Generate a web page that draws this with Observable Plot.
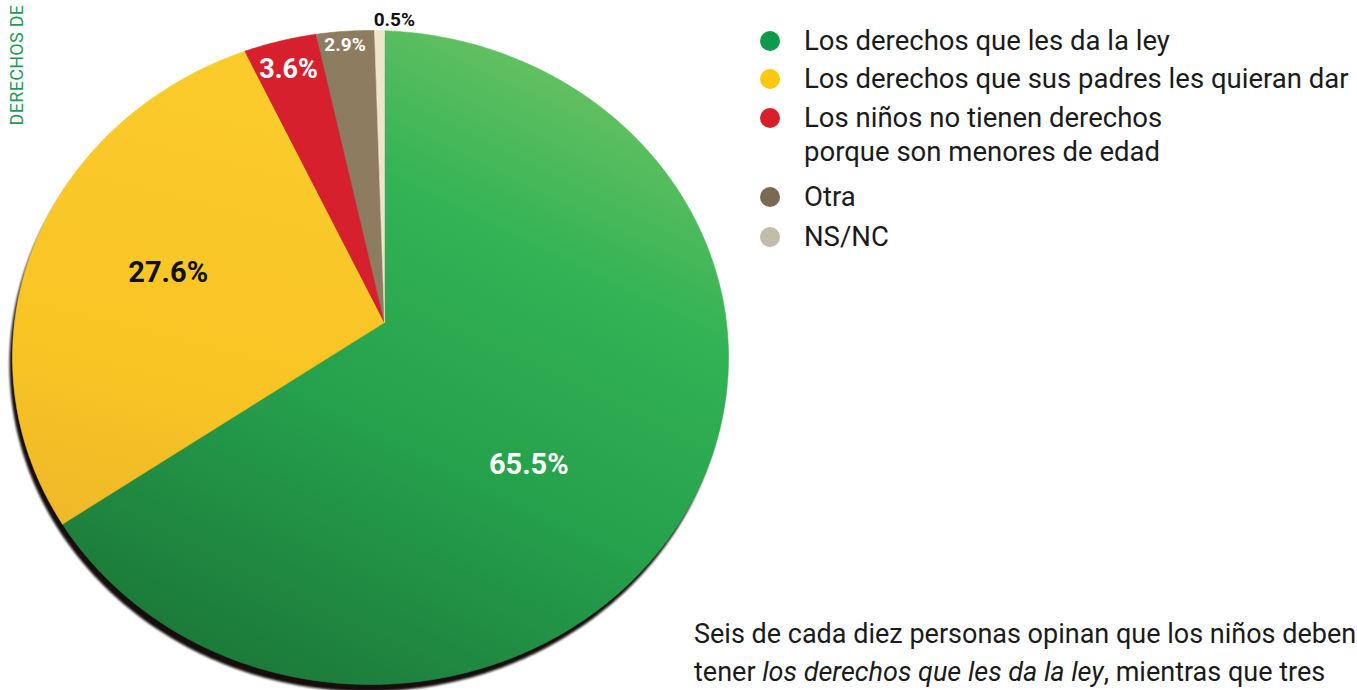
<!DOCTYPE html>
<html><head><meta charset="utf-8">
<script src="https://cdn.jsdelivr.net/npm/d3@7"></script>
<script src="https://cdn.jsdelivr.net/npm/@observablehq/plot@0.6"></script>
<style>
html,body{margin:0;padding:0;background:#fff;overflow:hidden;}
#wrap{position:relative;width:1357px;height:690px;overflow:hidden;font-family:Roboto,"Noto Sans",sans-serif;color:#1b1b1b;}
#chart{position:absolute;left:0;top:0;}
#side{position:absolute;left:16px;top:65px;transform:translate(-50%,-50%) rotate(-90deg);color:#1f9a55;font-size:18px;font-weight:400;white-space:nowrap;letter-spacing:0.3px;}
.item{position:absolute;left:804px;font-size:27.5px;line-height:34px;white-space:pre-line;}
.dot{position:absolute;left:-44px;top:7px;width:20px;height:20px;border-radius:50%;}
#note{position:absolute;left:694px;top:615px;font-size:27px;line-height:38px;white-space:nowrap;}
</style></head><body>
<div id="wrap">
  <div id="chart"></div>
  <div id="side">DERECHOS DE</div>
  <div id="legend"></div>
  <div id="note">Seis de cada diez personas opinan que los niños deben<br>tener <i>los derechos que les da la ley</i>, mientras que tres</div>
</div>
<script>
// ---- data ----
const categories = [
  "Los derechos que les da la ley",
  "Los derechos que sus padres les quieran dar",
  "Los niños no tienen derechos\nporque son menores de edad",
  "Otra",
  "NS/NC"
];
const values = [65.5, 27.6, 3.6, 2.9, 0.5];
const valueLabels = ["65.5%", "27.6%", "3.6%", "2.9%", "0.5%"];

// ---- styles / layout ----
const legendColors = ["#0f9a4b", "#fdc80f", "#d91e2b", "#7a6a51", "#c3bcab"];
const sliceFills = ["url(#gGreen)", "url(#gYellow)", "#d7202e", "#8e7c60", "#efe5cb"];
const labelColors = ["white", "#111", "white", "white", "#111"];
const labelSizes = [29, 29, 27, 19, 19];
const labelPlace = [{d: 19.4, f: 0.593}, {d: -1.1, f: 0.623}, {d: -0.4, f: 0.818}, {d: -0.4, f: 0.855}, {d: 2.6, f: 0.925}];
const legendTops = [24, 62, 101, 180, 220];

const A = {x: 384, y: 322};           // apex of the tilted pie
const C = {x: 370, y: 357};           // centre of the rim ellipse
const RX = 358, RY = 327;

function rim(theta) {
  const t = theta * Math.PI / 180, p = Math.sin(t), q = -Math.cos(t);
  const u = (A.x - C.x) / RX, v = (A.y - C.y) / RY;
  const b = u * p + v * q, c = u * u + v * v - 1;
  const s = -b + Math.sqrt(b * b - c);
  return [A.x + s * p * RX, A.y + s * q * RY];
}

const total = d3.sum(values);
let start = 0;
const slices = values.map((v, i) => {
  const end = start + v / total * 360;
  const pts = [{x: A.x, y: A.y}];
  const n = Math.max(2, Math.ceil((end - start) / 0.5));
  for (let k = 0; k <= n; k++) {
    const [x, y] = rim(start + (end - start) * k / n);
    pts.push({x, y});
  }
  pts.push({x: A.x, y: A.y});
  const s = {i, start, end, mid: (start + end) / 2, pts};
  start = end;
  return s;
});

const shadow = d3.range(0, 361, 1).map(a => {
  const t = a * Math.PI / 180;
  return {x: C.x - 3 + RX * Math.sin(t), y: C.y + 7 + RY * -Math.cos(t)};
});

const labels = slices.map(s => {
  const lp = labelPlace[s.i];
  const t = (s.mid + lp.d) * Math.PI / 180;
  return {
    x: A.x + lp.f * Math.sin(t) * RX,
    y: A.y - lp.f * Math.cos(t) * RY,
    text: valueLabels[s.i],
    size: labelSizes[s.i],
    dark: labelColors[s.i] !== "white"
  };
});

const marks = [
  Plot.line(shadow, {x: "x", y: "y", fill: "#120f08", stroke: "none"}),
  ...slices.map(s => Plot.line(s.pts, {x: "x", y: "y", fill: sliceFills[s.i], stroke: sliceFills[s.i], strokeWidth: 0.6, curve: "linear"})),
  Plot.text(labels.filter(d => !d.dark), {x: "x", y: "y", text: "text", fill: "white", fontSize: "size", fontWeight: "bold", fontFamily: "Roboto, sans-serif"}),
  Plot.text(labels.filter(d => d.dark), {x: "x", y: "y", text: "text", fill: "#111", fontSize: "size", fontWeight: "bold", fontFamily: "Roboto, sans-serif"})
];

const svg = Plot.plot({
  width: 1357, height: 690, margin: 0,
  x: {domain: [0, 1357], range: [0, 1357], axis: null},
  y: {domain: [0, 690], range: [0, 690], axis: null},
  style: {background: "transparent", overflow: "visible"},
  marks
});
svg.insertAdjacentHTML("afterbegin", `<defs>
  <linearGradient id="gGreen" x1="0.8" y1="0" x2="0.3" y2="1">
    <stop offset="0" stop-color="#72c466"/>
    <stop offset="0.3" stop-color="#34b355"/>
    <stop offset="0.62" stop-color="#25a04c"/>
    <stop offset="1" stop-color="#1c7939"/>
  </linearGradient>
  <linearGradient id="gYellow" x1="0.5" y1="0" x2="0.3" y2="1">
    <stop offset="0" stop-color="#fbcb2c"/>
    <stop offset="0.7" stop-color="#f8c424"/>
    <stop offset="1" stop-color="#f0b929"/>
  </linearGradient>
  <filter id="blur" x="-5%" y="-5%" width="110%" height="110%"><feGaussianBlur stdDeviation="1.3"/></filter>
</defs>`);
const lineGroups = svg.querySelectorAll('g[aria-label="line"]');
if (lineGroups.length) lineGroups[0].setAttribute("filter", "url(#blur)");
document.getElementById("chart").appendChild(svg);

const legend = document.getElementById("legend");
categories.forEach((c, i) => {
  const it = document.createElement("div");
  it.className = "item";
  it.style.top = legendTops[i] + "px";
  it.textContent = c;
  const dot = document.createElement("span");
  dot.className = "dot";
  dot.style.background = legendColors[i];
  it.prepend(dot);
  legend.appendChild(it);
});
</script>
</body></html>
